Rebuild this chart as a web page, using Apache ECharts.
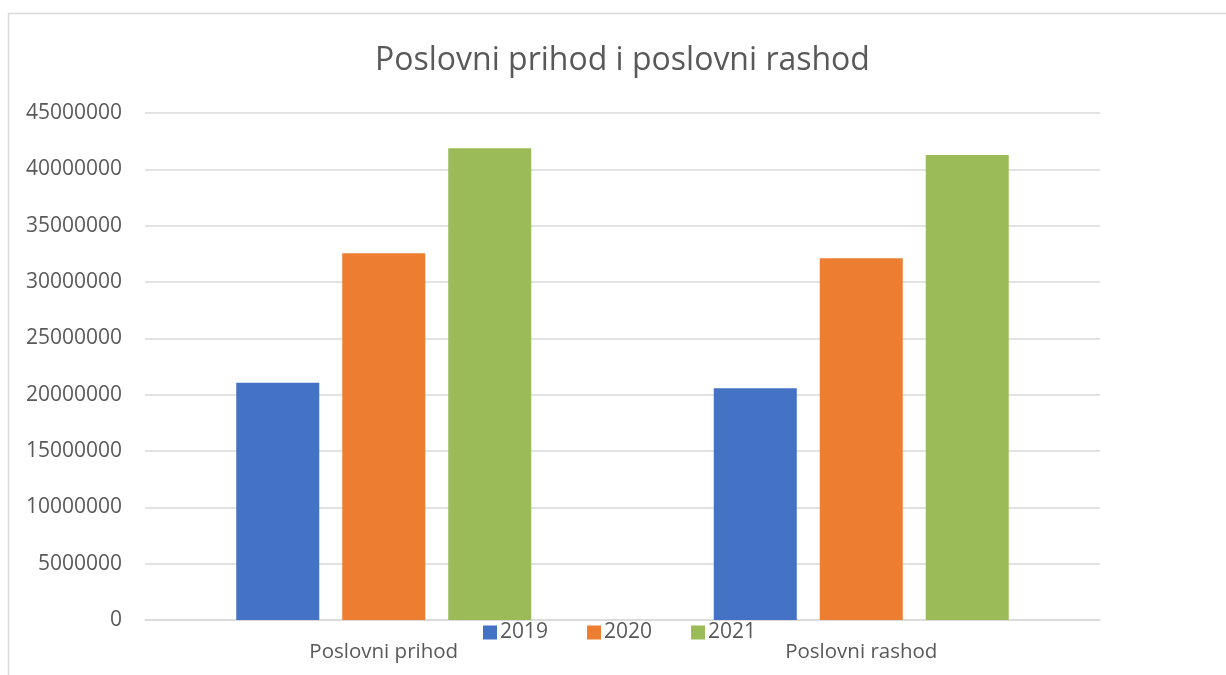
<!DOCTYPE html>
<html>
<head>
<meta charset="utf-8">
<script src="https://cdn.jsdelivr.net/npm/echarts@6/dist/echarts.min.js"></script>
<style>html,body{margin:0;padding:0;background:#fff}#c{width:1226px;height:675px}</style>
</head>
<body>
<div id="c"></div>
<script>
const categories = ['Poslovni prihod', 'Poslovni rashod'];
const years = ['2019', '2020', '2021'];
const values2019 = [21060000, 20560000];
const values2020 = [32550000, 32100000];
const values2021 = [41870000, 41270000];
const yTicks = { min: 0, max: 45000000, interval: 5000000 };

const colors = ['#4472C4', '#ED7D31', '#9BBB59'];
const font = 'Open Sans';
const chart = echarts.init(document.getElementById('c'));
const seriesData = [values2019, values2020, values2021];
chart.setOption({
  animation: false,
  color: colors,
  title: {
    text: 'Poslovni prihod i poslovni rashod',
    left: 370, top: 40,
    textStyle: { fontFamily: font, fontSize: 32, fontWeight: 'normal', color: '#595959' }
  },
  graphic: [{
    type: 'rect', shape: { x: 8.5, y: 13.5, width: 1300, height: 800 },
    style: { fill: 'none', stroke: '#d9d9d9', lineWidth: 1.5 }, silent: true
  }],
  legend: {
    data: years, left: 483, top: 622, padding: 0, itemWidth: 14, itemHeight: 14, itemGap: 39,
    icon: 'rect',
    textStyle: { fontFamily: font, fontSize: 21, color: '#595959', padding: [0,0,0,-2] }
  },
  grid: { left: 145, right: 126, top: 113, bottom: 55 },
  xAxis: {
    type: 'category', data: categories,
    axisLine: { lineStyle: { color: '#d9d9d9', width: 1.5 } },
    axisTick: { show: false },
    axisLabel: { fontFamily: font, fontSize: 20.5, color: '#595959', margin: 22 }
  },
  yAxis: {
    type: 'value', min: yTicks.min, max: yTicks.max, interval: yTicks.interval,
    axisLine: { show: false }, axisTick: { show: false },
    splitLine: { lineStyle: { color: '#d9d9d9', width: 1.5 } },
    axisLabel: { fontFamily: font, fontSize: 21, color: '#595959', margin: 23,
      formatter: v => String(v) }
  },
  series: years.map((y, i) => ({
    name: y, type: 'bar', data: seriesData[i],
    barWidth: 83, barGap: '27.7%'
  }))
});
</script>
</body>
</html>
